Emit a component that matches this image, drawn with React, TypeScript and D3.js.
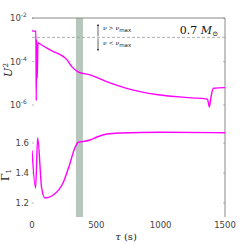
import * as d3 from "d3";
import React from "react";

// top panel: tau (s) vs log10(U^2)
const tauU = [0, 30, 33, 36, 41, 46, 54, 140, 272, 311, 358, 451, 606, 723, 979, 1243, 1350, 1365, 1378, 1392, 1410, 1500];
const logU = [-2.58, -2.6, -5.8, -3.0, -4.75, -3.12, -3.15, -3.46, -3.92, -4.24, -4.47, -4.61, -4.98, -5.21, -5.53, -5.67, -5.72, -5.75, -6.09, -5.6, -5.23, -5.2];

// bottom panel: tau vs Gamma_1
const tauG = [0, 28, 44, 75, 101, 160, 241, 290, 330, 360, 396, 451, 505, 583, 684, 1000, 1500];
const gamma1 = [1.55, 1.3, 1.635, 1.3, 1.233, 1.25, 1.333, 1.45, 1.56, 1.605, 1.61, 1.62, 1.64, 1.66, 1.667, 1.672, 1.668];

const band = [342, 396];
const dashedU = -2.88;
const xTicks = [0, 500, 1000, 1500];
const uTicks = [-2, -4, -6];
const gTicks = [1.2, 1.4, 1.6];

const W = 249, H = 245;
const left = 32, right = 225;
const topY = 18, midY = 120, botY = 217;

export default function App() {
  const x = d3.scaleLinear().domain([0, 1500]).range([left, right]);
  const yU = d3.scaleLinear().domain([-2, -6]).range([18.3, 105]);
  const yG = d3.scaleLinear().domain([1.2, 1.6]).range([203, 143]);

  const lineU = d3.line<number>()
    .x((_, i) => x(tauU[i]))
    .y((d) => yU(d))
    .curve(d3.curveMonotoneX);
  const lineG = d3.line<number>()
    .x((_, i) => x(tauG[i]))
    .y((d) => yG(d))
    .curve(d3.curveMonotoneX);

  const tickCol = "#444";
  const spine = "#888";

  return (
    <svg width={W} height={H} style={{ position: "absolute", left: 0, top: 0, background: "#fff" }}
      fontFamily="DejaVu Sans, sans-serif">
      <defs>
        <clipPath id="cTop"><rect x={left} y={topY} width={right - left} height={midY - topY} /></clipPath>
        <clipPath id="cBot"><rect x={left} y={midY} width={right - left} height={botY - midY} /></clipPath>
        <marker id="ah" viewBox="0 0 10 10" refX="5" refY="5" markerWidth="4" markerHeight="4" orient="auto-start-reverse">
          <path d="M0,1 L10,5 L0,9 Z" fill="#000" />
        </marker>
      </defs>

      {/* shaded band across both panels */}
      <rect x={x(band[0])} y={topY} width={x(band[1]) - x(band[0])} height={botY - topY} fill="#b7c7be" />

      {/* spines */}
      <line x1={left} x2={right} y1={topY} y2={topY} stroke={spine} strokeWidth={1} />
      <line x1={right} x2={right} y1={topY} y2={botY} stroke={spine} strokeWidth={1} />

      {/* dashed threshold */}
      <line x1={left} x2={right} y1={yU(dashedU)} y2={yU(dashedU)} stroke="#999" strokeWidth={0.8} strokeDasharray="3,2" />

      {/* arrows */}
      <line x1={98} x2={98} y1={yU(dashedU) - 1} y2={25} stroke="#000" strokeWidth={0.6} markerEnd="url(#ah)" />
      <line x1={98} x2={98} y1={yU(dashedU) + 1} y2={50} stroke="#000" strokeWidth={0.6} markerEnd="url(#ah)" />
      <text x={103} y={30} fontSize={6} fill="#222">
        <tspan fontFamily="DejaVu Serif, serif" fontStyle="italic">ν</tspan>
        <tspan fontFamily="DejaVu Serif, serif"> &gt; </tspan>
        <tspan fontFamily="DejaVu Serif, serif" fontStyle="italic">ν</tspan>
        <tspan dy={2} fontSize={5.5}>max</tspan>
      </text>
      <text x={103} y={45} fontSize={6} fill="#222">
        <tspan fontFamily="DejaVu Serif, serif" fontStyle="italic">ν</tspan>
        <tspan fontFamily="DejaVu Serif, serif"> &lt; </tspan>
        <tspan fontFamily="DejaVu Serif, serif" fontStyle="italic">ν</tspan>
        <tspan dy={2} fontSize={5.5}>max</tspan>
      </text>

      <text x={218} y={34} textAnchor="end" fontFamily="DejaVu Serif, serif" fontSize={11} fill="#111">
        0.7 <tspan fontStyle="italic">M</tspan><tspan fontSize={7} dy={2}>⊙</tspan>
      </text>

      {/* curves */}
      <path d={lineU(logU) ?? ""} fill="none" stroke="#ff00ff" strokeWidth={1.4} clipPath="url(#cTop)" />
      <path d={lineG(gamma1) ?? ""} fill="none" stroke="#ff00ff" strokeWidth={1.4} clipPath="url(#cBot)" />

      {/* y ticks top (log) */}
      {uTicks.map((t) => (
        <g key={t}>
          <line x1={left} x2={left + 2} y1={yU(t)} y2={yU(t)} stroke={spine} strokeWidth={0.6} />
          <line x1={right - 2} x2={right} y1={yU(t)} y2={yU(t)} stroke={spine} strokeWidth={0.6} />
          <text x={10} y={yU(t) + 3} fontSize={8.5} fill={tickCol}>
            10<tspan dy={-4} fontSize={6}>{t}</tspan>
          </text>
        </g>
      ))}

      {/* y ticks bottom */}
      {gTicks.map((t) => (
        <g key={t}>
          <line x1={left} x2={left + 2} y1={yG(t)} y2={yG(t)} stroke={spine} strokeWidth={0.6} />
          <line x1={right - 2} x2={right} y1={yG(t)} y2={yG(t)} stroke={spine} strokeWidth={0.6} />
          <text x={29} y={yG(t) + 3} fontSize={8.5} textAnchor="end" fill={tickCol}>{d3.format(".1f")(t)}</text>
        </g>
      ))}

      {/* x ticks */}
      {xTicks.map((t) => (
        <text key={t} x={x(t)} y={228} fontSize={8.5} textAnchor="middle" fill={tickCol}>{t}</text>
      ))}

      {/* axis labels */}
      <text transform="translate(12,70) rotate(-90)" textAnchor="middle" fontFamily="DejaVu Serif, serif" fontSize={11} fill="#222">
        <tspan fontStyle="italic">U</tspan><tspan fontSize={7} dy={-4}>2</tspan>
      </text>
      <text transform="translate(9,175) rotate(-90)" textAnchor="middle" fontFamily="DejaVu Serif, serif" fontSize={11} fill="#222">
        Γ<tspan fontSize={7} dy={2}>1</tspan>
      </text>
      <text x={126} y={240} textAnchor="middle" fontFamily="DejaVu Serif, serif" fontSize={10} fill="#222">
        <tspan fontStyle="italic">τ</tspan> (s)
      </text>
    </svg>
  );
}
